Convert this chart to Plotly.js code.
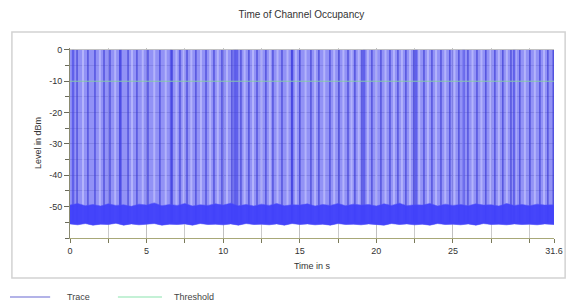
<!DOCTYPE html>
<html><head><meta charset="utf-8">
<script src="https://cdn.plot.ly/plotly-3.0.1.min.js"></script>
<style>html,body{margin:0;padding:0;background:#fff}#chart{width:570px;height:304px}</style>
</head><body><div id="chart"></div>
<script>
// ---- data ----
const xTickVals = [0, 5, 10, 15, 20, 25, 31.6];
const xTickText = ['0', '5', '10', '15', '20', '25', '31.6'];
const yTickVals = [0, -10, -20, -30, -40, -50];
const yTickText = ['0', '-10', '-20', '-30', '-40', '-50'];

const envTime = [0, 31.6];          // trace maximum (peaks reach 0 dBm)
const envTop = [0, 0];

const floorTime   = [0, 0.5, 1, 1.5, 2, 2.5, 3, 3.5, 4, 4.5, 5, 5.5, 6, 6.5, 7, 7.5, 8, 8.5, 9, 9.5, 10, 10.5, 11, 11.5, 12, 12.5, 13, 13.5, 14, 14.5, 15, 15.5, 16, 16.5, 17, 17.5, 18, 18.5, 19, 19.5, 20, 20.5, 21, 21.5, 22, 22.5, 23, 23.5, 24, 24.5, 25, 25.5, 26, 26.5, 27, 27.5, 28, 28.5, 29, 29.5, 30, 30.5, 31, 31.6];
const floorTop    = [-49.5, -49.0, -49.7, -49.3, -49.8, -49.1, -49.6, -49.4, -49.9, -49.2, -49.5, -48.8, -49.7, -49.3, -49.6, -49.0, -49.8, -49.4, -49.6, -49.1, -49.5, -48.9, -49.7, -49.3, -49.8, -49.2, -49.6, -49.0, -49.7, -49.4, -49.5, -49.1, -49.8, -49.3, -49.6, -49.0, -49.7, -49.2, -49.5, -49.3, -49.8, -49.1, -49.6, -48.9, -49.7, -49.4, -49.5, -49.0, -49.8, -49.2, -49.6, -49.3, -49.7, -49.1, -49.5, -49.4, -49.8, -49.0, -49.6, -49.3, -49.7, -49.2, -49.5, -49.4];
const floorBottom = [-55.5, -55.8, -55.4, -55.9, -55.6, -55.7, -55.3, -55.9, -55.5, -55.8, -55.6, -55.4, -55.9, -55.6, -55.7, -55.5, -55.9, -55.4, -55.7, -55.6, -55.8, -55.5, -55.9, -55.4, -55.7, -55.6, -55.8, -55.5, -55.9, -55.4, -55.7, -55.5, -55.8, -55.6, -55.9, -55.4, -55.7, -55.6, -55.8, -55.5, -55.6, -55.9, -55.4, -55.7, -55.5, -55.8, -55.6, -55.9, -55.4, -55.7, -55.6, -55.8, -55.5, -55.9, -55.4, -55.7, -55.6, -55.8, -55.5, -55.7, -55.6, -55.8, -55.5, -55.7];

const burstLow = -55;
const burstTimes = [0.46, 1.17, 1.63, 2.22, 2.61, 3.26, 3.79, 4.37, 5.09, 5.87, 6.66, 7.18, 7.64, 8.22, 8.88, 9.40, 9.92, 10.57, 11.16, 11.68, 12.21, 12.79, 13.25, 13.84, 14.49, 15.01, 15.73, 16.25, 16.97, 17.56, 18.15, 18.60, 19.06, 19.71, 20.30, 20.89, 21.41, 21.93, 22.45, 23.11, 23.63, 24.22, 24.80, 25.39, 25.98, 26.57, 27.15, 27.74, 28.26, 28.79, 29.37, 30.03, 30.68, 31.20, 31.55];
const strongBurstTimes = [0.2, 3.3, 6.6, 10.75, 10.9, 14.5, 19.2, 22.6, 25.7, 29.0];
const quietTimes = [0.85, 1.95, 2.95, 4.05, 4.75, 5.5, 6.25, 6.95, 7.42, 7.92, 8.55, 9.15, 9.65, 10.25, 11.4, 11.95, 12.5, 13.05, 13.55, 14.2, 14.75, 15.38, 16.0, 16.6, 17.25, 17.85, 18.38, 18.85, 19.45, 20.0, 20.6, 21.15, 21.67, 22.2, 22.8, 23.37, 23.9, 24.5, 25.1, 25.68, 26.28, 26.86, 27.45, 28.0, 28.52, 29.1, 29.7, 30.35, 30.95];

const thresholdLevel = -10;
const thresholdTime = [0, 31.6];

// ---- build traces ----
function vlines(times, low, high) {
  const x = [], y = [];
  times.forEach(t => { x.push(t, t, null); y.push(high, low, null); });
  return {x, y};
}
const envX = envTime.concat(floorTime.slice().reverse());
const envY = envTop.concat(floorBottom.slice().reverse());
const bandX = floorTime.concat(floorTime.slice().reverse());
const bandY = floorTop.concat(floorBottom.slice().reverse());
const burst = vlines(burstTimes, burstLow, 0);
const strong = vlines(strongBurstTimes, burstLow, 0);
const quiet = vlines(quietTimes, burstLow, 0);

const traces = [
  {x: envX, y: envY, type: 'scatter', mode: 'lines', fill: 'toself',
   fillcolor: 'rgba(100,100,242,0.70)', line: {width: 0}, hoverinfo: 'skip', showlegend: false, name: 'Trace'},
  {x: quiet.x, y: quiet.y, type: 'scatter', mode: 'lines',
   line: {color: 'rgba(205,205,255,0.55)', width: 2}, hoverinfo: 'skip', showlegend: false},
  {x: burst.x, y: burst.y, type: 'scatter', mode: 'lines',
   line: {color: 'rgba(50,50,210,0.75)', width: 1.3}, hoverinfo: 'skip', showlegend: false},
  {x: strong.x, y: strong.y, type: 'scatter', mode: 'lines',
   line: {color: 'rgba(55,55,225,0.55)', width: 2.5}, hoverinfo: 'skip', showlegend: false},
  {x: bandX, y: bandY, type: 'scatter', mode: 'lines', fill: 'toself',
   fillcolor: 'rgba(64,64,250,0.95)', line: {width: 0.6, color: 'rgba(80,80,250,0.9)'}, hoverinfo: 'skip', showlegend: false},
  {x: thresholdTime, y: [thresholdLevel, thresholdLevel], type: 'scatter', mode: 'lines', name: 'Threshold',
   line: {color: 'rgba(140,215,165,0.85)', width: 1.1}, hoverinfo: 'skip', showlegend: false}
];

const axisLine = '#a8a878';
const gridCol = 'rgba(190,190,190,0.8)';
const layout = {
  width: 570, height: 304,
  margin: {l: 70, r: 16, t: 48, b: 66},
  paper_bgcolor: '#ffffff', plot_bgcolor: '#ffffff',
  font: {family: 'Liberation Sans, Arial, sans-serif', size: 9, color: '#333'},
  title: {text: 'Time of Channel Occupancy', x: 0.478, xanchor: 'center', xref: 'paper',
          y: 0.952, yanchor: 'middle', yref: 'container', font: {size: 10, color: '#333'}},
  showlegend: false,
  xaxis: {
    range: [0, 31.6], tickmode: 'array', tickvals: xTickVals, ticktext: xTickText,
    ticks: 'outside', ticklen: 4, tickcolor: '#7a7a5a', showline: true, linecolor: axisLine, linewidth: 1.2,
    showgrid: true, gridcolor: gridCol, gridwidth: 1, zeroline: false,
    minor: {tickmode: 'linear', tick0: 0, dtick: 2.5, ticks: 'outside', ticklen: 4, tickcolor: '#7a7a5a', showgrid: true, gridcolor: gridCol},
    tickfont: {size: 9, color: '#333'},
    title: {text: 'Time in s', font: {size: 9, color: '#333'}, standoff: 7},
    fixedrange: true
  },
  yaxis: {
    range: [-60, 0.6], tickmode: 'array', tickvals: yTickVals, ticktext: yTickText,
    ticks: 'outside', ticklen: 5, tickcolor: '#6a6a5a', showline: true, linecolor: '#8a8a70', linewidth: 1,
    showgrid: true, gridcolor: gridCol, zeroline: false,
    minor: {tickmode: 'linear', tick0: 0, dtick: 5, ticks: 'outside', ticklen: 4, tickcolor: '#6a6a5a', showgrid: true, gridcolor: gridCol},
    tickfont: {size: 9, color: '#333'},
    title: {text: 'Level in dBm', font: {size: 9, color: '#333'}, standoff: 6},
    fixedrange: true
  },
  shapes: [
    {type: 'rect', xref: 'paper', yref: 'paper', x0: -0.12, x1: 1.023, y0: -0.2105, y1: 1.084,
     line: {color: '#d2d2d2', width: 1.5}, fillcolor: 'rgba(0,0,0,0)', layer: 'below'},
    {type: 'line', xref: 'paper', yref: 'paper', x0: -0.124, x1: -0.041, y0: -0.311, y1: -0.311,
     line: {color: '#9a9ae0', width: 1.5}},
    {type: 'line', xref: 'paper', yref: 'paper', x0: 0.099, x1: 0.19, y0: -0.311, y1: -0.311,
     line: {color: '#b0ecc8', width: 1.5}}
  ],
  annotations: [
    {text: 'Trace', xref: 'paper', yref: 'paper', x: -0.01, y: -0.311, xanchor: 'left', yanchor: 'middle',
     showarrow: false, font: {size: 9, color: '#444'}},
    {text: 'Threshold', xref: 'paper', yref: 'paper', x: 0.211, y: -0.311, xanchor: 'left', yanchor: 'middle',
     showarrow: false, font: {size: 9, color: '#444'}}
  ]
};
Plotly.newPlot('chart', traces, layout, {displayModeBar: false, staticPlot: true});
</script></body></html>
